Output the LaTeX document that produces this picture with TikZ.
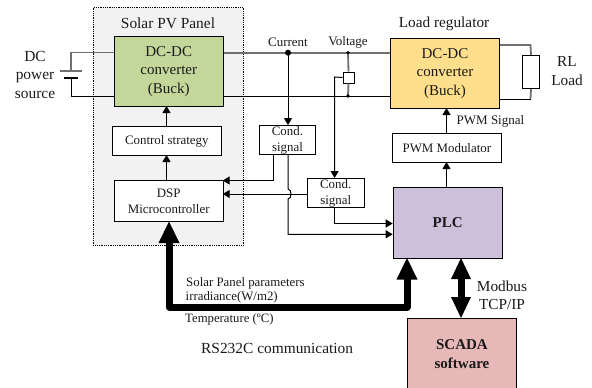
\documentclass[tikz,border=0pt]{standalone}
\usepackage{fontspec}
\setmainfont{Liberation Serif}
\usetikzlibrary{arrows.meta}
\definecolor{panelc}{HTML}{F2F2F2}
\definecolor{greenc}{HTML}{C4D79B}
\definecolor{yellowc}{HTML}{FFDE8C}
\definecolor{purplec}{HTML}{CCC0DA}
\definecolor{pinkc}{HTML}{E6B8B7}
\definecolor{txt}{HTML}{1A1A1A}
\definecolor{wireg}{HTML}{707070}
\tikzset{
  blk/.style={draw=black,line width=1pt,inner sep=0pt,align=center,text=txt},
  lbl/.style={inner sep=0pt,align=center,text=txt},
  wire/.style={draw=black,line width=1pt},
  gwire/.style={draw=wireg,line width=1.8pt},
  sig/.style={draw=black,line width=1pt,-{Triangle[length=7pt,width=8pt]}},
  bus/.style={draw=black,line width=7pt},
}
\newcommand{\bigf}{\fontsize{15}{18.5}\selectfont}
\newcommand{\midf}{\fontsize{12.9}{16}\selectfont}
\begin{document}
\begin{tikzpicture}[x=1pt,y=-1pt]
\useasboundingbox (0,0) rectangle (592,388);
\fill[white] (0,0) rectangle (592,388);
\node[draw=black,densely dotted,line width=.8pt,fill=panelc,minimum width=150pt,minimum height=238pt,inner sep=0pt,anchor=north west] (panel) at (93,7) {};
\node[lbl,font=\fontsize{15.4}{16}\selectfont] (paneltitle) at (168,23) {Solar PV Panel};
% main blocks
\node[blk,fill=greenc,font=\bigf,minimum width=108.5pt,minimum height=70.5pt,anchor=north west] (dc1) at (114,35.5) {DC-DC\\converter\\(Buck)};
\node[blk,fill=yellowc,font=\bigf,minimum width=109pt,minimum height=70pt,anchor=north west] (dc2) at (390,38) {DC-DC\\converter\\(Buck)};
\node[blk,fill=white,font=\midf,minimum width=109.5pt,minimum height=29pt,anchor=north west] (ctrl) at (111.5,126) {Control strategy};
\node[blk,fill=white,font=\midf,minimum width=109pt,minimum height=41pt,anchor=north west] (dsp) at (113.7,180) {DSP\\Microcontroller};
\node[blk,fill=white,font=\midf,minimum width=56.5pt,minimum height=29pt,anchor=north west] (cond1) at (258.7,125) {Cond.\\signal};
\node[blk,fill=white,font=\midf,minimum width=57pt,minimum height=29pt,anchor=north west] (cond2) at (306.7,178) {Cond.\\signal};
\node[blk,fill=white,font=\midf,minimum width=108.7pt,minimum height=29pt,anchor=north west] (pwm) at (392,133) {PWM Modulator};
\node[blk,fill=purplec,font=\bigf\bfseries,minimum width=109pt,minimum height=70.5pt,anchor=north west] (plc) at (392.7,187) {PLC};
\node[blk,fill=pinkc,font=\bigf\bfseries,minimum width=109.5pt,minimum height=71pt,anchor=north west] (scada) at (406.7,318) {SCADA\\software};
\node[blk,fill=white,minimum width=17pt,minimum height=33pt,anchor=north west] (rl) at (522,55) {};
\node[blk,fill=white,minimum width=11pt,minimum height=11pt,anchor=north west] (vs) at (342.5,71.5) {};
% source
\coordinate (plateA) at (71,71);
\coordinate (plateB) at (71,78);
\draw[gwire] (dc1.west |- 0,52.5) -- (71,52.5) -- (plateA);
\draw[wire] (dc1.west |- 0,96) -- (71,96) -- (plateB);
\draw[line width=1.3pt,draw=wireg] (60,71) -- (82,71);
\draw[line width=1.3pt,draw=black] (64,78) -- (78,78);
% DC bus
\draw[gwire] (dc1.east |- 0,52.7) -- (dc2.west |- 0,52.7);
\draw[wire] (dc1.east |- 0,96) -- (dc2.west |- 0,96);
% voltage sense
\coordinate (vtop) at (348,52.7);
\coordinate (vbot) at (348,96);
\draw[gwire] (vtop) -- (vs.north);
\draw[gwire] (vs.south) -- (vbot);
\fill (vtop) circle (1.8pt);
\fill (vbot) circle (1.8pt);
% current sense
\coordinate (cur) at (288,52.7);
\fill (cur) circle (3pt);
\draw[sig] (cur) -- (cur |- cond1.north);
\coordinate (vbend) at (334.6,77);
\draw[sig] (vs.west) -- (vbend) -- (vbend |- cond2.north);
% load
\draw[gwire] (dc2.east |- 0,45) -- (530.5,45) -- (rl.north);
\draw[gwire] (rl.south) -- (530.5,99);
\draw[wire] (530.5,99) -- (dc2.east |- 0,99);
% vertical signals
\draw[sig] (166.5,126) -- (166.5,106);
\draw[sig] (166.5,180) -- (166.5,155);
\draw[sig] (446.5,133) -- (446.5,108);
\draw[sig] (446.5,187) -- (446.5,162);
% cond outputs
\draw[sig] (273.7,154) -- (273.7,180.5) -- (222.7,180.5);
\draw[sig] (cond2.west |- 0,194) -- (222.7,194);
\draw[sig] (288,154) -- (288,189) .. controls (292,189) and (292,199) .. (288,199) -- (288,234.3) -- (392.7,234.3);
\draw[sig] (334.7,207) -- (334.7,223.5) -- (392.7,223.5);
% thick buses
\coordinate (bl) at (169,307);
\coordinate (br) at (407,307);
\draw[bus,line join=round] (169,240) -- (bl) -- (br) -- (407,275);
\fill (169,221.5) -- (179.5,243) -- (158.5,243) -- cycle;
\fill (407,258) -- (417.5,279.5) -- (396.5,279.5) -- cycle;
\draw[line width=7pt] (461,275) -- (461,300);
\fill (461,258) -- (471,279) -- (451,279) -- cycle;
\fill (461,318) -- (471,297) -- (451,297) -- cycle;
% labels
\node[lbl,font=\fontsize{15.4}{18.5}\selectfont] (src) at (35,74.5) {DC\\power\\source};
\node[lbl,font=\fontsize{13}{14}\selectfont] (curl) at (288,42) {Current};
\node[lbl,font=\fontsize{13}{14}\selectfont] (voll) at (348,42) {Voltage};
\node[lbl,font=\fontsize{15.3}{16}\selectfont] (loadr) at (444,24) {Load regulator};
\node[lbl,font=\fontsize{15.3}{18.5}\selectfont] (rll) at (567,71) {RL\\Load};
\node[lbl,font=\fontsize{13}{14}\selectfont,anchor=west] (pwms) at (456.5,121) {PWM Signal};
\node[lbl,font=\fontsize{15.3}{18}\selectfont] (mod) at (502,295) {Modbus\\TCP/IP};
\node[lbl,font=\fontsize{12.85}{14}\selectfont,anchor=west] (sp) at (186,283) {Solar Panel parameters};
\node[lbl,font=\fontsize{12.85}{14}\selectfont,anchor=west] (irr) at (185.5,297) {irradiance(W/m2)};
\node[lbl,font=\fontsize{12.75}{14}\selectfont,anchor=west] (tmp) at (185,319) {Temperature (ºC)};
\node[lbl,font=\fontsize{15.4}{16}\selectfont,anchor=west] (rs) at (201,348) {RS232C communication};
\end{tikzpicture}
\end{document}
